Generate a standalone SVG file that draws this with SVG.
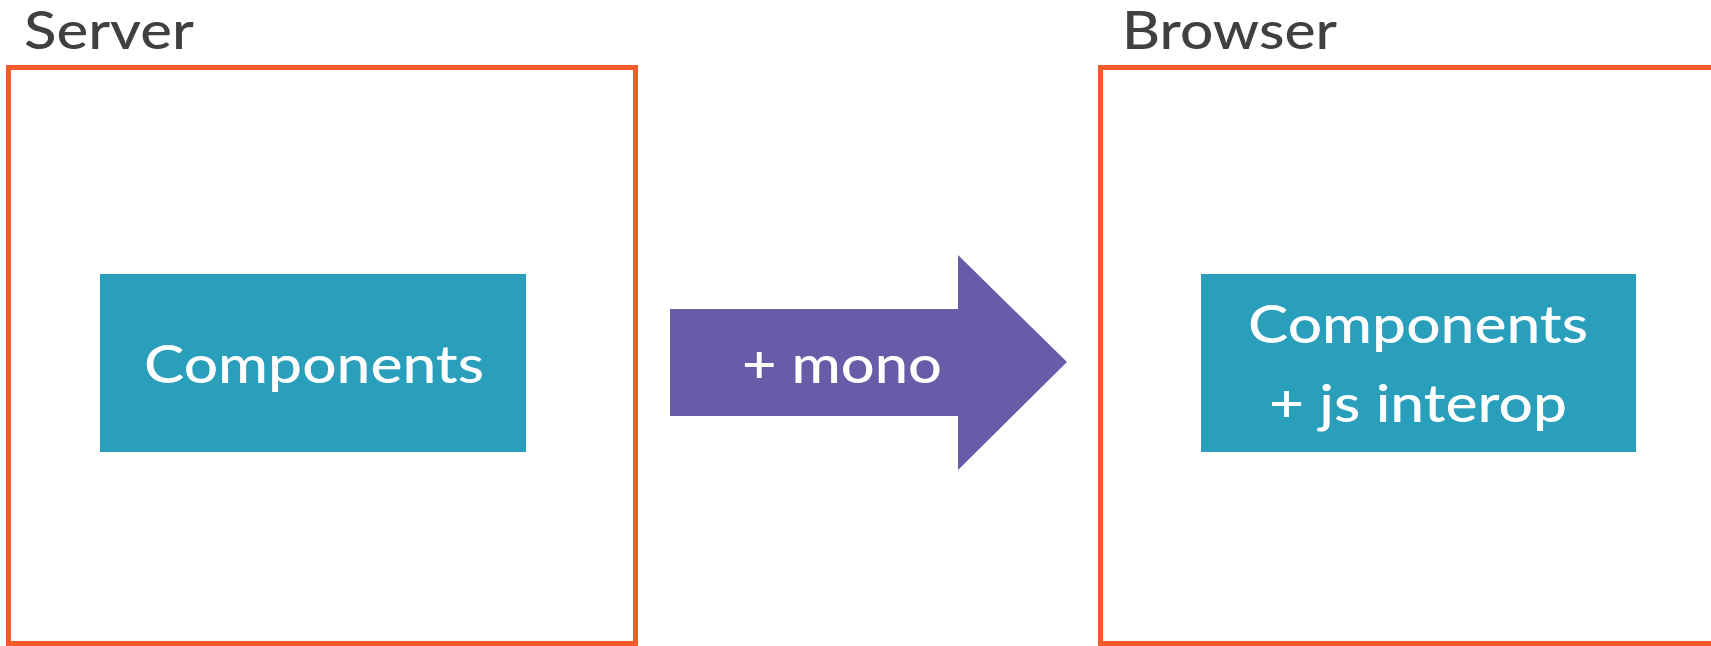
<svg xmlns="http://www.w3.org/2000/svg" width="1711" height="646" viewBox="0 0 1711 646">
<style>
.frame{fill:none;stroke:#F15A29;stroke-width:5}
.comp{fill:#2A9FBC}
.title{font-family:Lato,"Open Sans","Liberation Sans",sans-serif;font-size:53px;font-weight:500;fill:#404040}
.lbl{font-family:Lato,"Open Sans","Liberation Sans",sans-serif;font-size:52px;font-weight:500;fill:#ffffff;text-anchor:middle}
</style>
<rect width="1711" height="646" fill="#ffffff"/>
<g id="server">
<rect class="frame" x="8.5" y="67.5" width="627" height="576"/>
<text class="title" x="24" y="49" textLength="170" lengthAdjust="spacingAndGlyphs">Server</text>
</g>
<g id="browser">
<rect class="frame" x="1100.5" y="67.5" width="640" height="576"/>
<text class="title" x="1122" y="49" textLength="215" lengthAdjust="spacingAndGlyphs">Browser</text>
</g>
<g id="server-components">
<rect class="comp" x="100" y="274" width="426" height="178"/>
<text class="lbl" x="314" y="383" textLength="340" lengthAdjust="spacingAndGlyphs">Components</text>
</g>
<g id="browser-components">
<rect class="comp" x="1201" y="274" width="435" height="178"/>
<text class="lbl" x="1418" y="343" textLength="340" lengthAdjust="spacingAndGlyphs">Components</text>
<text class="lbl" x="1418" y="422" textLength="298" lengthAdjust="spacingAndGlyphs">+ js interop</text>
</g>
<g id="connectors">
<polygon points="670,309 958,309 958,255 1067,362 958,470 958,416 670,416" fill="#675CA8"/>
<text class="lbl" x="842" y="383" font-size="56" textLength="200" lengthAdjust="spacingAndGlyphs">+ mono</text>
</g>
</svg>
